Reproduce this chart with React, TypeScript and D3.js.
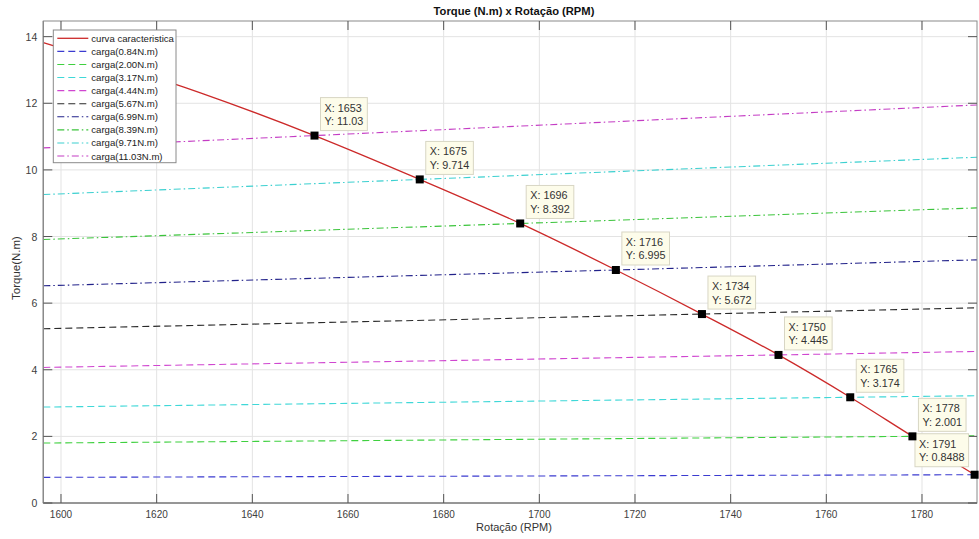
import React, { useEffect, useRef } from 'react';
import * as d3 from 'd3';

// ---------- data ----------
const xTicks = [1600, 1620, 1640, 1660, 1680, 1700, 1720, 1740, 1760, 1780];
const yTicks = [0, 2, 4, 6, 8, 10, 12, 14];
const xDomain = [1596.3, 1791.5];
const yDomain = [0, 14.47];

const curveName = 'curva caracteristica';
const curveRpm = [1596.3, 1629, 1653, 1675, 1696, 1716, 1734, 1750, 1765, 1778, 1791];
const curveTorque = [13.82, 12.32, 11.03, 9.714, 8.392, 6.995, 5.672, 4.445, 3.174, 2.001, 0.8488];

const loadNames = [
  'carga(0.84N.m)', 'carga(2.00N.m)', 'carga(3.17N.m)', 'carga(4.44N.m)', 'carga(5.67N.m)',
  'carga(6.99N.m)', 'carga(8.39N.m)', 'carga(9.71N.m)', 'carga(11.03N.m)',
];
const loadStartTorque = [0.77, 1.80, 2.88, 4.07, 5.23, 6.52, 7.91, 9.26, 10.66];
const loadEndTorque = [0.85, 2.02, 3.22, 4.55, 5.86, 7.30, 8.86, 10.38, 11.95];

const tipRpm = [1791, 1778, 1765, 1750, 1734, 1716, 1696, 1675, 1653];
const tipTorque = [0.8488, 2.001, 3.174, 4.445, 5.672, 6.995, 8.392, 9.714, 11.03];
const tipXLabel = ['1791', '1778', '1765', '1750', '1734', '1716', '1696', '1675', '1653'];
const tipYLabel = ['0.8488', '2.001', '3.174', '4.445', '5.672', '6.995', '8.392', '9.714', '11.03'];

const title = 'Torque (N.m) x Rotação (RPM)';
const xLabel = 'Rotação (RPM)';
const yLabel = 'Torque(N.m)';

// ---------- styles ----------
const loadColors = ['#3b3bd0', '#3fd03f', '#3fd8d8', '#d046d0', '#2a2a2a', '#22228a', '#3cc43c', '#3cd0d0', '#c43cc4'];
const loadDash = ['7,4', '7,4', '7,4', '7,4', '7,4', '7,3,1.5,3', '7,3,1.5,3', '7,3,1.5,3', '7,3,1.5,3'];
const curveColor = '#cc2a2a';
const FONT = '"Liberation Sans", Arial, Helvetica, sans-serif';

const W = 979;
const H = 539;
const L = 43.3, R = 977, T = 21, B = 503;

export default function App() {
  const ref = useRef<SVGSVGElement | null>(null);

  useEffect(() => {
    document.body.style.margin = '0';
    const svg = d3.select(ref.current);
    svg.selectAll('*').remove();

    const x = d3.scaleLinear().domain(xDomain).range([L, R]);
    const y = d3.scaleLinear().domain(yDomain).range([B, T]);

    svg.append('rect').attr('width', W).attr('height', H).attr('fill', '#ffffff');

    svg.append('defs').append('clipPath').attr('id', 'plotclip')
      .append('rect').attr('x', L).attr('y', T).attr('width', R - L).attr('height', B - T);

    // grid
    const grid = svg.append('g');
    xTicks.forEach((t) => {
      grid.append('line').attr('x1', x(t)).attr('x2', x(t)).attr('y1', T).attr('y2', B)
        .attr('stroke', '#e3e3e3').attr('stroke-width', 1);
    });
    yTicks.forEach((t) => {
      grid.append('line').attr('x1', L).attr('x2', R).attr('y1', y(t)).attr('y2', y(t))
        .attr('stroke', '#e3e3e3').attr('stroke-width', 1);
    });

    const plot = svg.append('g').attr('clip-path', 'url(#plotclip)');
    const line = d3.line<[number, number]>().x((d) => x(d[0])).y((d) => y(d[1]));

    // load lines
    loadNames.forEach((_, i) => {
      const pts: [number, number][] = [
        [xDomain[0], loadStartTorque[i]],
        [tipRpm[i], tipTorque[i]],
        [xDomain[1], loadEndTorque[i]],
      ];
      plot.append('path').attr('d', line(pts) as string).attr('fill', 'none')
        .attr('stroke', loadColors[i]).attr('stroke-width', 1.1)
        .attr('stroke-dasharray', loadDash[i]);
    });

    // characteristic curve
    const cpts: [number, number][] = curveRpm.map((r, i) => [r, curveTorque[i]]);
    const smooth = d3.line<[number, number]>().x((d) => x(d[0])).y((d) => y(d[1])).curve(d3.curveMonotoneX);
    plot.append('path').attr('d', smooth(cpts) as string).attr('fill', 'none')
      .attr('stroke', curveColor).attr('stroke-width', 1.3);

    // axes box + ticks
    const ax = svg.append('g');
    const axisColor = '#8a8a8a';
    ax.append('rect').attr('x', L).attr('y', T).attr('width', R - L).attr('height', B - T)
      .attr('fill', 'none').attr('stroke', axisColor).attr('stroke-width', 1);
    ax.append('line').attr('x1', L).attr('x2', R).attr('y1', B).attr('y2', B)
      .attr('stroke', axisColor).attr('stroke-width', 1.4);
    ax.append('line').attr('x1', L).attr('x2', L).attr('y1', T).attr('y2', B)
      .attr('stroke', axisColor).attr('stroke-width', 1.4);
    const tl = 9;
    xTicks.forEach((t) => {
      ax.append('line').attr('x1', x(t)).attr('x2', x(t)).attr('y1', B).attr('y2', B - tl)
        .attr('stroke', '#555').attr('stroke-width', 1);
      ax.append('line').attr('x1', x(t)).attr('x2', x(t)).attr('y1', T).attr('y2', T + tl)
        .attr('stroke', '#555').attr('stroke-width', 1);
      ax.append('text').attr('x', x(t)).attr('y', B + 15).attr('text-anchor', 'middle')
        .attr('font-family', FONT).attr('font-size', 10).attr('fill', '#404040').text(String(t));
    });
    yTicks.forEach((t) => {
      ax.append('line').attr('x1', L).attr('x2', L + tl).attr('y1', y(t)).attr('y2', y(t))
        .attr('stroke', '#555').attr('stroke-width', 1);
      ax.append('line').attr('x1', R).attr('x2', R - tl).attr('y1', y(t)).attr('y2', y(t))
        .attr('stroke', '#555').attr('stroke-width', 1);
      ax.append('text').attr('x', L - 6).attr('y', y(t) + 4).attr('text-anchor', 'end')
        .attr('font-family', FONT).attr('font-size', 10.5).attr('fill', '#404040').text(String(t));
    });

    // titles
    svg.append('text').attr('x', 514).attr('y', 15).attr('text-anchor', 'middle')
      .attr('font-family', FONT).attr('font-size', 11.2).attr('font-weight', 'bold')
      .attr('fill', '#111').text(title);
    svg.append('text').attr('x', 514).attr('y', 531).attr('text-anchor', 'middle')
      .attr('font-family', FONT).attr('font-size', 11).attr('fill', '#333').text(xLabel);
    svg.append('text').attr('transform', `translate(20,${(T + B) / 2 + 6}) rotate(-90)`)
      .attr('text-anchor', 'middle').attr('font-family', FONT).attr('font-size', 11.5)
      .attr('fill', '#333').text(yLabel);

    // legend
    const lg = svg.append('g');
    const lx = 53.3, ly = 30, lw = 122.7, lh = 132.7;
    lg.append('rect').attr('x', lx).attr('y', ly).attr('width', lw).attr('height', lh)
      .attr('fill', '#ffffff').attr('stroke', '#8a8a8a').attr('stroke-width', 1);
    const names = [curveName, ...loadNames];
    names.forEach((n, i) => {
      const yy = ly + 8.3 + i * 13.08;
      const col = i === 0 ? curveColor : loadColors[i - 1];
      const dash = i === 0 ? null : loadDash[i - 1];
      const l = lg.append('line').attr('x1', lx + 4).attr('x2', lx + 35).attr('y1', yy).attr('y2', yy)
        .attr('stroke', col).attr('stroke-width', i === 0 ? 1.3 : 1.1);
      if (dash) l.attr('stroke-dasharray', dash);
      lg.append('text').attr('x', lx + 38).attr('y', yy + 3.5).attr('font-family', FONT)
        .attr('font-size', 9.6).attr('fill', '#222').text(n);
    });

    // data tips
    const tips = svg.append('g');
    tipRpm.forEach((r, i) => {
      const sx = x(r), sy = y(tipTorque[i]);
      const g = tips.append('g');
      const rect = g.append('rect');
      const t1 = g.append('text').attr('font-family', FONT).attr('font-size', 10.8).attr('fill', '#333')
        .text(`X: ${tipXLabel[i]}`);
      const t2 = g.append('text').attr('font-family', FONT).attr('font-size', 10.8).attr('fill', '#333')
        .text(`Y: ${tipYLabel[i]}`);
      const w1 = (t1.node() as SVGTextElement).getComputedTextLength();
      const w2 = (t2.node() as SVGTextElement).getComputedTextLength();
      const bw = Math.max(w1, w2) + 8;
      const bh = 33;
      let bx = sx + 6;
      let by = sy - 5 - bh;
      if (bx + bw > R) {
        bx = sx - 6 - bw;
        by = sy - 8 - bh;
      }
      rect.attr('x', bx).attr('y', by).attr('width', bw).attr('height', bh)
        .attr('fill', '#fdfcea').attr('stroke', '#d8d6c4').attr('stroke-width', 1);
      t1.attr('x', bx + 4).attr('y', by + 14);
      t2.attr('x', bx + 4).attr('y', by + 27.5);
      g.append('rect').attr('x', sx - 4).attr('y', sy - 4).attr('width', 8).attr('height', 8)
        .attr('fill', '#000');
    });
  }, []);

  return (
    <svg ref={ref} width={W} height={H} style={{ position: 'absolute', left: 0, top: 0, display: 'block' }} />
  );
}
